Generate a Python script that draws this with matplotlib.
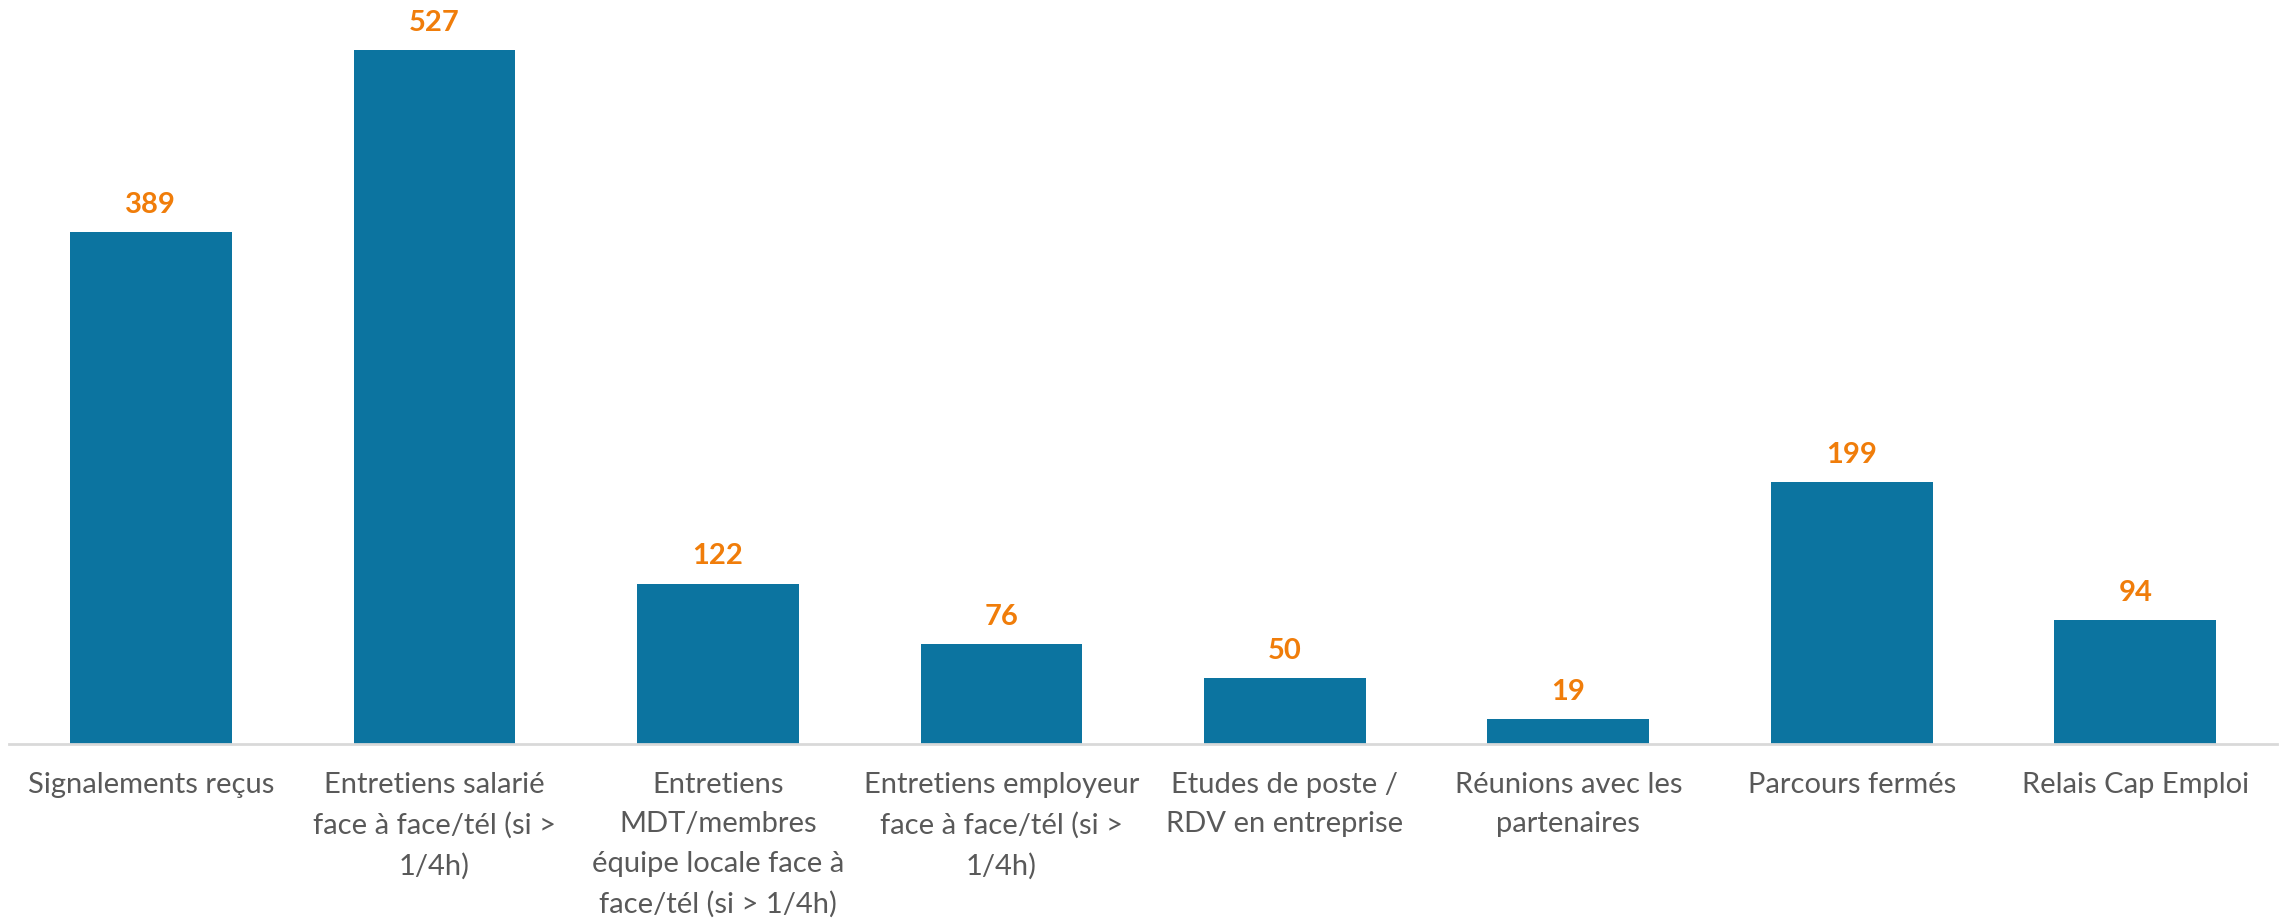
import matplotlib.pyplot as plt

categories = [
    "Signalements reçus",
    "Entretiens salarié\nface à face/tél (si >\n1/4h)",
    "Entretiens\nMDT/membres\néquipe locale face à\nface/tél (si > 1/4h)",
    "Entretiens employeur\nface à face/tél (si >\n1/4h)",
    "Etudes de poste /\nRDV en entreprise",
    "Réunions avec les\npartenaires",
    "Parcours fermés",
    "Relais Cap Emploi",
]
values = [389, 527, 122, 76, 50, 19, 199, 94]

bar_color = "#0C74A0"
label_color = "#F07D0A"
text_color = "#595959"

plt.rcParams['font.family'] = ['Lato', 'DejaVu Sans']

fig = plt.figure(figsize=(22.87, 9.2), dpi=100)
ax = fig.add_axes([0.004, 0.19, 0.9916, 0.81])

x = range(len(values))
bars = ax.bar(x, values, width=0.57, color=bar_color)

for b, v in zip(bars, values):
    ax.annotate(str(v), (b.get_x() + b.get_width() / 2, v),
                xytext=(0, 11), textcoords="offset points",
                ha="center", va="bottom", fontsize=21, fontweight="bold",
                color=label_color)

ax.set_xlim(-0.5, len(values) - 0.5)
ax.set_ylim(0, 566)
ax.set_xticks(list(x))
ax.set_xticklabels(categories, fontsize=21, color=text_color,
                   linespacing=1.65)
ax.tick_params(axis="x", length=0, pad=19)
ax.set_yticks([])
for s in ["top", "right", "left"]:
    ax.spines[s].set_visible(False)
ax.spines["bottom"].set_color("#D9D9D9")
ax.spines["bottom"].set_linewidth(2)

fig.savefig("out.png", dpi=100)
